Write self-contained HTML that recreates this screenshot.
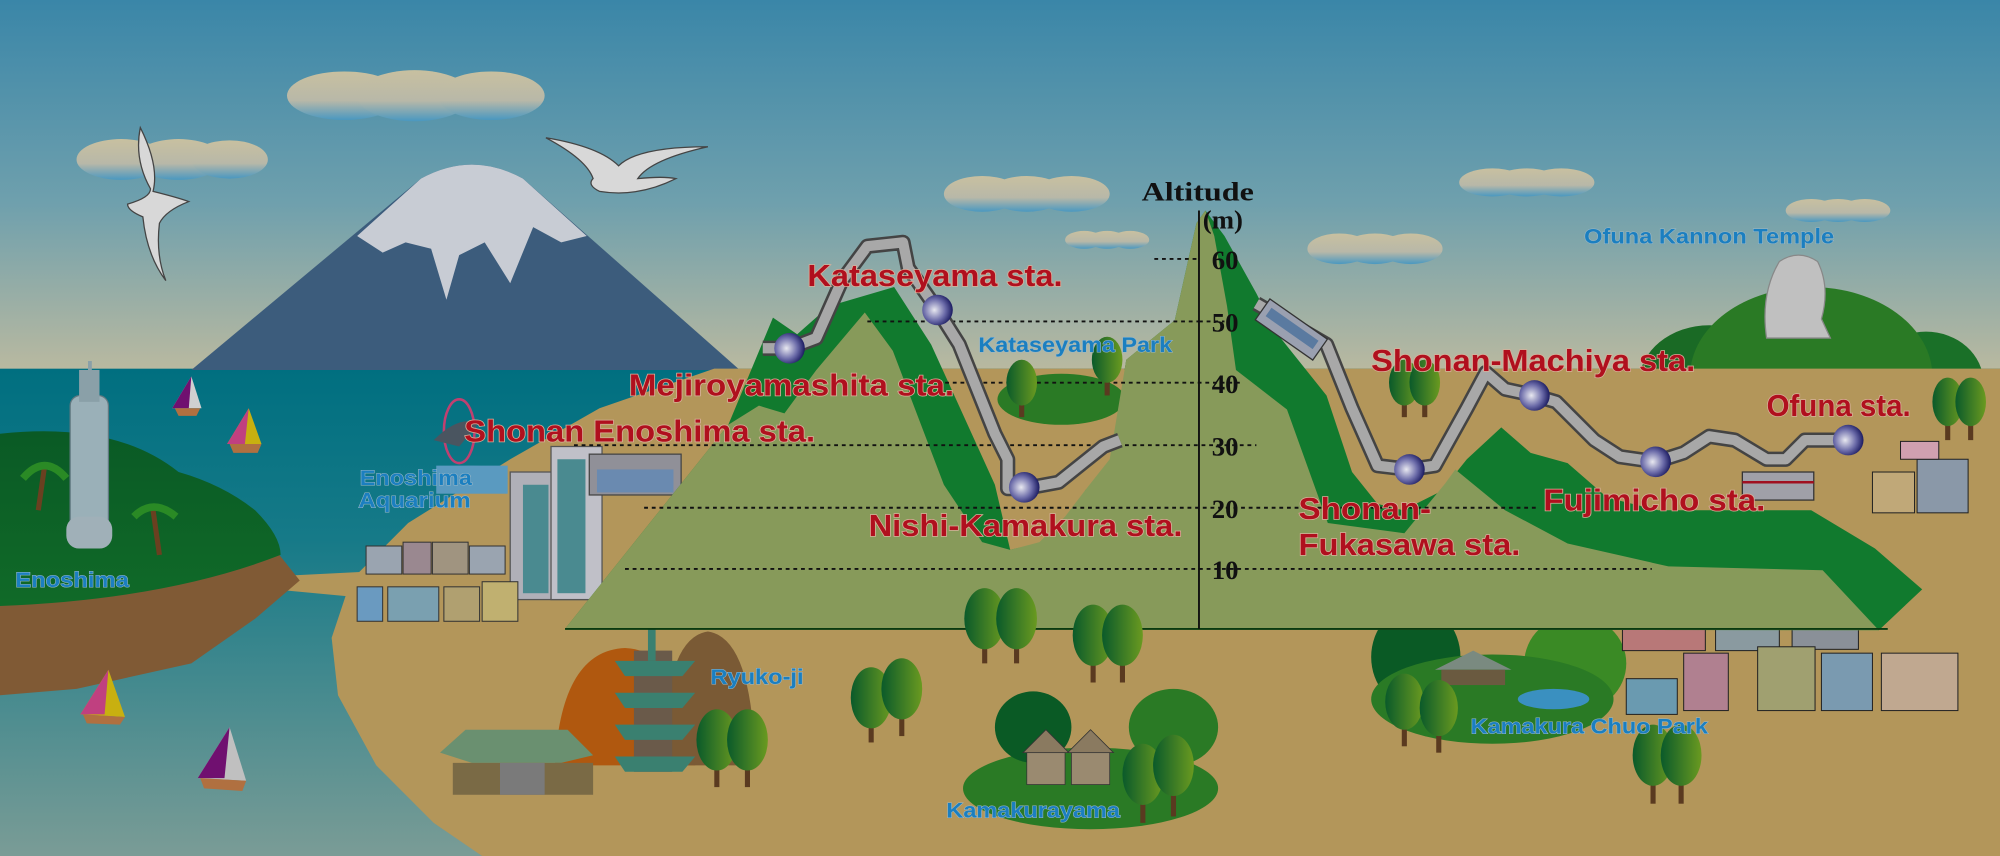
<!DOCTYPE html>
<html><head><meta charset="utf-8"><style>html,body{margin:0;padding:0;background:#3a87a8}svg{display:block}</style></head><body>
<svg width="2000" height="856" viewBox="0 0 1568 671" preserveAspectRatio="none" xmlns="http://www.w3.org/2000/svg">
<defs>
<linearGradient id="sky" x1="0" y1="0" x2="0" y2="1"><stop offset="0" stop-color="#3a86a8"/><stop offset="0.55" stop-color="#6fa0ad"/><stop offset="1" stop-color="#b9b9a0"/></linearGradient>
<linearGradient id="sea" x1="0" y1="0" x2="0" y2="1"><stop offset="0" stop-color="#006f80"/><stop offset="0.35" stop-color="#167a88"/><stop offset="1" stop-color="#7a9c96"/></linearGradient>
<linearGradient id="cloud" x1="0" y1="0" x2="0" y2="1"><stop offset="0" stop-color="#c8c0a0"/><stop offset="0.6" stop-color="#b8b8a8"/><stop offset="1" stop-color="#4a98c0"/></linearGradient>
<radialGradient id="st" cx="0.4" cy="0.5" r="0.6"><stop offset="0" stop-color="#e8e8f0"/><stop offset="0.6" stop-color="#6a6aa8"/><stop offset="1" stop-color="#1a1a60"/></radialGradient>
<linearGradient id="tree" x1="0" y1="0" x2="1" y2="0"><stop offset="0" stop-color="#0a5a2a"/><stop offset="1" stop-color="#6a9a20"/></linearGradient>
<linearGradient id="isl" x1="0" y1="0" x2="0" y2="1"><stop offset="0" stop-color="#0a5a25"/><stop offset="1" stop-color="#106a28"/></linearGradient>
</defs>
<rect x="0" y="0" width="1568" height="290" fill="url(#sky)"/>
<rect x="0" y="289" width="1568" height="382" fill="url(#sea)"/>
<!-- clouds -->
<g fill="url(#cloud)">
<ellipse cx="270" cy="75" rx="45" ry="19"/><ellipse cx="325" cy="75" rx="45" ry="20"/><ellipse cx="385" cy="75" rx="42" ry="19"/>
<ellipse cx="95" cy="125" rx="35" ry="16"/><ellipse cx="140" cy="125" rx="35" ry="16"/><ellipse cx="180" cy="125" rx="30" ry="15"/>
<ellipse cx="770" cy="152" rx="30" ry="14"/><ellipse cx="805" cy="152" rx="30" ry="14"/><ellipse cx="840" cy="152" rx="30" ry="14"/>
<ellipse cx="850" cy="188" rx="15" ry="7"/><ellipse cx="868" cy="188" rx="15" ry="7"/><ellipse cx="886" cy="188" rx="15" ry="7"/>
<ellipse cx="1050" cy="195" rx="25" ry="12"/><ellipse cx="1078" cy="195" rx="25" ry="12"/><ellipse cx="1106" cy="195" rx="25" ry="12"/>
<ellipse cx="1170" cy="143" rx="26" ry="11"/><ellipse cx="1197" cy="143" rx="26" ry="11"/><ellipse cx="1224" cy="143" rx="26" ry="11"/>
<ellipse cx="1420" cy="165" rx="20" ry="9"/><ellipse cx="1441" cy="165" rx="20" ry="9"/><ellipse cx="1462" cy="165" rx="20" ry="9"/>
</g>
<!-- Fuji -->
<path d="M150,290 L330,140 Q370,118 410,140 L580,290 Z" fill="#3c5c7c"/>
<path d="M280,185 L330,140 Q370,118 410,140 L460,185 L440,190 L418,178 L400,222 L380,190 L360,200 L350,235 L338,195 L318,190 L300,198 Z" fill="#c8ccd4"/>
<!-- seagulls -->
<g fill="#d8d8d8" stroke="#444" stroke-width="1">
<path d="M110,100 Q125,130 120,150 Q140,155 148,158 Q130,165 125,175 Q122,200 130,220 Q115,200 112,170 Q100,165 100,160 Q118,155 118,148 Q105,125 110,100 Z"/>
<path d="M428,108 Q470,115 485,130 Q500,115 555,115 Q510,125 500,140 Q520,138 530,140 Q500,155 470,150 Q460,145 465,140 Q460,125 428,108 Z"/>
</g>
<!-- right hills -->
<ellipse cx="1340" cy="300" rx="55" ry="45" fill="#1a6a25"/>
<ellipse cx="1510" cy="300" rx="45" ry="40" fill="#1a7028"/>
<ellipse cx="1420" cy="295" rx="95" ry="70" fill="#2a7a25"/>
<path d="M1385,265 Q1380,230 1395,205 Q1410,195 1425,205 Q1435,225 1428,250 L1435,265 Z" fill="#c0c0c0" stroke="#888"/>
<!-- land -->
<path d="M1568,289 L560,289 L470,320 L400,360 L320,410 L275,455 L260,500 L265,545 L295,600 L340,645 L378,671 L1568,671 Z" fill="#b3965a"/>
<path d="M210,452 L290,448 L300,470 L215,462 Z" fill="#b3965a"/>
<!-- Enoshima island -->
<path d="M0,475 L0,545 L60,540 L150,520 L200,485 L235,455 L215,430 Z" fill="#805a35"/>
<path d="M0,340 Q90,330 140,370 Q175,380 200,400 Q220,420 220,435 Q130,470 0,475 Z" fill="url(#isl)"/>
<rect x="55" y="310" width="30" height="115" rx="8" fill="#9ab0b8" stroke="#607880"/>
<rect x="62" y="290" width="16" height="25" fill="#8aa0a8"/><rect x="69" y="283" width="3" height="10" fill="#8aa0a8"/>
<rect x="52" y="405" width="36" height="25" rx="10" fill="#a0b0b8"/>
<path d="M30,400 L35,365 M125,435 L120,400" stroke="#6a4020" stroke-width="4"/>
<path d="M18,375 Q35,355 52,375 M105,405 Q120,390 138,405" stroke="#2a8a25" stroke-width="6" fill="none"/>
<!-- sailboats -->
<g>
<path d="M135,320 L150,295 L158,320 Z" fill="#d0d0d0"/><path d="M135,320 L150,295 L148,320 Z" fill="#701070"/><path d="M137,320 L157,320 L154,326 L140,326 Z" fill="#b07040"/>
<path d="M178,348 L195,320 L205,348 Z" fill="#c8b010"/><path d="M178,348 L195,320 L192,348 Z" fill="#c04080"/><path d="M180,348 L205,348 L202,355 L183,355 Z" fill="#b07040"/>
<path d="M63,560 L85,525 L98,562 Z" fill="#c8b010"/><path d="M63,560 L85,525 L82,560 Z" fill="#c04080"/><path d="M65,560 L98,562 L94,568 L68,567 Z" fill="#b07040"/>
<path d="M155,610 L180,570 L193,612 Z" fill="#c0c0c0"/><path d="M155,610 L180,570 L176,610 Z" fill="#701070"/><path d="M157,610 L193,612 L190,620 L160,618 Z" fill="#b07040"/>
</g>
<!-- aquarium -->
<ellipse cx="370" cy="375" rx="28" ry="10" fill="#4a8ab0"/><rect x="342" y="365" width="56" height="22" fill="#5a9ac0"/>
<ellipse cx="360" cy="338" rx="12" ry="25" fill="none" stroke="#c04070" stroke-width="2"/>
<path d="M340,345 Q360,325 375,332 L360,350 Z" fill="#4a5560"/>
<!-- station building -->
<rect x="400" y="370" width="62" height="100" fill="#b0b0b8" stroke="#555"/>
<rect x="432" y="350" width="40" height="120" fill="#c0c0c8" stroke="#555"/>
<g fill="#4a8a90"><rect x="410" y="380" width="20" height="85"/><rect x="437" y="360" width="22" height="105"/></g>
<rect x="462" y="356" width="72" height="32" fill="#909098" stroke="#444"/>
<rect x="468" y="368" width="60" height="18" fill="#6a8ab0"/>
<!-- houses left -->
<g stroke="#333" stroke-width="0.8">
<rect x="287" y="428" width="28" height="22" fill="#9aa4b0"/><rect x="316" y="425" width="22" height="25" fill="#9a8890"/><rect x="339" y="425" width="28" height="25" fill="#a09480"/><rect x="368" y="428" width="28" height="22" fill="#9aa4b0"/>
<rect x="280" y="460" width="20" height="27" fill="#6a9ac0"/><rect x="304" y="460" width="40" height="27" fill="#7aa0b0"/><rect x="348" y="460" width="28" height="27" fill="#b0a070"/><rect x="378" y="456" width="28" height="31" fill="#c0b070"/>
</g>
<!-- Ryuko-ji -->
<path d="M435,600 Q440,510 490,508 Q540,510 545,600 Z" fill="#b0580f"/>
<path d="M520,600 Q520,500 555,495 Q590,500 592,600 Z" fill="#7a5a35"/>
<rect x="497" y="510" width="30" height="95" fill="#6a5a4a"/>
<g fill="#3a8070"><path d="M482,518 L545,518 L535,530 L490,530Z"/><path d="M482,543 L545,543 L535,555 L490,555Z"/><path d="M482,568 L545,568 L535,580 L490,580Z"/><path d="M482,593 L545,593 L535,605 L490,605Z"/><rect x="508" y="470" width="6" height="48"/></g>
<path d="M345,590 L365,572 L445,572 L465,592 L440,598 L370,598 Z" fill="#6a9070"/>
<rect x="355" y="598" width="110" height="25" fill="#7a6a45"/><rect x="392" y="598" width="35" height="25" fill="#7a7a7a"/>
<!-- parks -->
<ellipse cx="855" cy="618" rx="100" ry="32" fill="#2a7a25"/>
<ellipse cx="810" cy="570" rx="30" ry="28" fill="#0a5a25"/><ellipse cx="920" cy="570" rx="35" ry="30" fill="#2a7a25"/>
<ellipse cx="1110" cy="515" rx="35" ry="40" fill="#0a5a25"/><ellipse cx="1235" cy="520" rx="40" ry="38" fill="#3a8a25"/>
<ellipse cx="1170" cy="548" rx="95" ry="35" fill="#2a7a25"/>
<ellipse cx="1218" cy="548" rx="28" ry="8" fill="#3a90c0"/>
<path d="M1125,525 L1155,510 L1185,525 Z" fill="#7a8a80"/><rect x="1130" y="525" width="50" height="12" fill="#6a5a40"/>
<g stroke="#333" stroke-width="0.6">
<rect x="805" y="590" width="30" height="25" fill="#9a8a70"/><path d="M802,590 L820,572 L838,590 Z" fill="#8a7a60"/>
<rect x="840" y="590" width="30" height="25" fill="#9a8a70"/><path d="M837,590 L855,572 L873,590 Z" fill="#8a7a60"/>
</g>
<!-- right houses -->
<g stroke="#222" stroke-width="0.8">
<rect x="1272" y="465" width="65" height="45" fill="#b87878"/><rect x="1345" y="460" width="50" height="50" fill="#8a9aa0"/><rect x="1405" y="457" width="52" height="52" fill="#8a9098"/>
<rect x="1275" y="532" width="40" height="28" fill="#6a9ab0"/><rect x="1320" y="512" width="35" height="45" fill="#b08090"/><rect x="1378" y="507" width="45" height="50" fill="#a0a070"/><rect x="1428" y="512" width="40" height="45" fill="#7a9ab0"/><rect x="1475" y="512" width="60" height="45" fill="#c0a890"/>
<rect x="1468" y="370" width="33" height="32" fill="#c0a878"/><rect x="1503" y="360" width="40" height="42" fill="#8a98a8"/><rect x="1490" y="346" width="30" height="14" fill="#d0a0b0"/>
</g>
<!-- altitude chart -->
<path d="M443,493 L571,333 L606,249 L625,262 L650,240 L701,225 L730,270 L780,380 L792,431 L840,420 L851,384 L870,360 L883,282 L921,251 L938,175 L945,165 L960,185 L985,230 L1000,260 L1040,310 L1060,370 L1080,395 L1100,400 L1130,385 L1150,360 L1177,335 L1200,355 L1229,363 L1260,390 L1300,400 L1420,400 L1470,430 L1507,462 L1473,494 Z" fill="#117a2e"/>
<path d="M783,290 L883,290 L880,340 L870,370 L851,384 L830,396 L810,394 L798,370 L790,340 Z" fill="#b3965a"/>
<ellipse cx="832" cy="313" rx="50" ry="20" fill="#2a7a25"/>
<path d="M443,493 L571,333 L595,318 L615,324 L640,290 L678,245 L700,275 L740,380 L770,425 L792,431 L815,425 L835,405 L851,384 L870,360 L883,282 L921,251 L938,175 L945,165 L952,185 L962,240 L969,290 L1009,321 L1041,410 L1101,418 L1133,379 L1141,368 L1180,400 L1229,426 L1308,444 L1429,447 L1473,494 Z" fill="#879a5a"/>
<line x1="443" y1="493" x2="1480" y2="493" stroke="#0a3a10" stroke-width="1.5"/>
<g stroke="#111" stroke-width="1.5" stroke-dasharray="3,3">
<line x1="905" y1="203" x2="940" y2="203"/>
<line x1="680" y1="252" x2="940" y2="252"/><line x1="940" y1="252" x2="960" y2="252"/>
<line x1="735" y1="300" x2="975" y2="300"/>
<line x1="450" y1="349" x2="985" y2="349"/>
<line x1="505" y1="398" x2="1205" y2="398"/>
<line x1="490" y1="446" x2="1295" y2="446"/>
</g>
<line x1="940" y1="165" x2="940" y2="493" stroke="#111" stroke-width="1.5"/>
<g font-family="'Liberation Serif',serif" font-weight="bold" font-size="21" fill="#111">
<text x="895" y="157" textLength="88" lengthAdjust="spacingAndGlyphs">Altitude</text>
<text x="943" y="179">(m)</text>
<text x="950" y="211">60</text><text x="950" y="260">50</text><text x="950" y="308">40</text><text x="950" y="357">30</text><text x="950" y="406">20</text><text x="950" y="454">10</text>
</g>
<!-- track -->
<g fill="none" stroke-linejoin="round">
<path d="M598,273 L619,273 L640,265 L660,220 L680,193 L708,190 L712,210 L735,243 L752,270 L780,340 L790,360 L790,383 L803,383 L830,378 L850,362 L865,350 L878,345" stroke="#444" stroke-width="12"/>
<path d="M598,273 L619,273 L640,265 L660,220 L680,193 L708,190 L712,210 L735,243 L752,270 L780,340 L790,360 L790,383 L803,383 L830,378 L850,362 L865,350 L878,345" stroke="#a8a8a8" stroke-width="8"/>
<path d="M985,238 L1040,270 L1060,320 L1080,365 L1105,368 L1125,365 L1150,320 L1165,292 L1180,305 L1203,310 L1220,315 L1250,345 L1270,358 L1298,362 L1320,355 L1340,342 L1360,345 L1385,360 L1400,360 L1415,345 L1449,345" stroke="#444" stroke-width="12"/>
<path d="M985,238 L1040,270 L1060,320 L1080,365 L1105,368 L1125,365 L1150,320 L1165,292 L1180,305 L1203,310 L1220,315 L1250,345 L1270,358 L1298,362 L1320,355 L1340,342 L1360,345 L1385,360 L1400,360 L1415,345 L1449,345" stroke="#a8a8a8" stroke-width="8"/>
</g>
<g transform="rotate(35 1012 258)"><rect x="985" y="248" width="55" height="20" fill="#9aa0b0" stroke="#333"/><rect x="990" y="253" width="45" height="8" fill="#5a7aa0"/></g>
<rect x="1366" y="370" width="56" height="22" fill="#a0a0a8" stroke="#333"/><line x1="1366" y1="378" x2="1422" y2="378" stroke="#a01020" stroke-width="2"/>
<g fill="url(#st)">
<circle cx="619" cy="273" r="12"/><circle cx="735" cy="243" r="12"/><circle cx="803" cy="382" r="12"/>
<circle cx="1105" cy="368" r="12"/><circle cx="1203" cy="310" r="12"/><circle cx="1298" cy="362" r="12"/><circle cx="1449" cy="345" r="12"/>
</g>
<!-- trees -->
<g id="trees">
<g><rect x="770" y="490" width="4" height="30" fill="#5a3a20"/><ellipse cx="772" cy="485" rx="16" ry="24" fill="url(#tree)"/></g>
<g><rect x="795" y="490" width="4" height="30" fill="#5a3a20"/><ellipse cx="797" cy="485" rx="16" ry="24" fill="url(#tree)"/></g>
<g><rect x="855" y="505" width="4" height="30" fill="#5a3a20"/><ellipse cx="857" cy="498" rx="16" ry="24" fill="url(#tree)"/></g>
<g><rect x="878" y="505" width="4" height="30" fill="#5a3a20"/><ellipse cx="880" cy="498" rx="16" ry="24" fill="url(#tree)"/></g>
<g><rect x="681" y="555" width="4" height="27" fill="#5a3a20"/><ellipse cx="683" cy="547" rx="16" ry="24" fill="url(#tree)"/></g>
<g><rect x="705" y="550" width="4" height="27" fill="#5a3a20"/><ellipse cx="707" cy="540" rx="16" ry="24" fill="url(#tree)"/></g>
<g><rect x="560" y="590" width="4" height="27" fill="#5a3a20"/><ellipse cx="562" cy="580" rx="16" ry="24" fill="url(#tree)"/></g>
<g><rect x="584" y="590" width="4" height="27" fill="#5a3a20"/><ellipse cx="586" cy="580" rx="16" ry="24" fill="url(#tree)"/></g>
<g><rect x="799" y="305" width="4" height="22" fill="#5a3a20"/><ellipse cx="801" cy="300" rx="12" ry="18" fill="url(#tree)"/></g>
<g><rect x="866" y="288" width="4" height="22" fill="#5a3a20"/><ellipse cx="868" cy="282" rx="12" ry="18" fill="url(#tree)"/></g>
<g><rect x="1099" y="305" width="4" height="22" fill="#5a3a20"/><ellipse cx="1101" cy="300" rx="12" ry="18" fill="url(#tree)"/></g>
<g><rect x="1115" y="305" width="4" height="22" fill="#5a3a20"/><ellipse cx="1117" cy="300" rx="12" ry="18" fill="url(#tree)"/></g>
<g><rect x="1525" y="320" width="4" height="25" fill="#5a3a20"/><ellipse cx="1527" cy="315" rx="12" ry="19" fill="url(#tree)"/></g>
<g><rect x="1543" y="320" width="4" height="25" fill="#5a3a20"/><ellipse cx="1545" cy="315" rx="12" ry="19" fill="url(#tree)"/></g>
<g><rect x="1294" y="600" width="4" height="30" fill="#5a3a20"/><ellipse cx="1296" cy="592" rx="16" ry="24" fill="url(#tree)"/></g>
<g><rect x="1316" y="600" width="4" height="30" fill="#5a3a20"/><ellipse cx="1318" cy="592" rx="16" ry="24" fill="url(#tree)"/></g>
<g><rect x="1099" y="560" width="4" height="25" fill="#5a3a20"/><ellipse cx="1101" cy="550" rx="15" ry="22" fill="url(#tree)"/></g>
<g><rect x="1126" y="565" width="4" height="25" fill="#5a3a20"/><ellipse cx="1128" cy="555" rx="15" ry="22" fill="url(#tree)"/></g>
<g><rect x="894" y="615" width="4" height="30" fill="#5a3a20"/><ellipse cx="896" cy="607" rx="16" ry="24" fill="url(#tree)"/></g>
<g><rect x="918" y="610" width="4" height="30" fill="#5a3a20"/><ellipse cx="920" cy="600" rx="16" ry="24" fill="url(#tree)"/></g>
</g>
<!-- labels -->
<g font-family="'Liberation Sans',sans-serif" font-weight="bold" font-size="24" fill="#b0101e" stroke="#d8b09a" stroke-width="1.2" paint-order="stroke">
<text x="633" y="224" textLength="200" lengthAdjust="spacingAndGlyphs">Kataseyama sta.</text>
<text x="493" y="310" textLength="255" lengthAdjust="spacingAndGlyphs">Mejiroyamashita sta.</text>
<text x="364" y="346" textLength="275" lengthAdjust="spacingAndGlyphs">Shonan Enoshima sta.</text>
<text x="681" y="420" textLength="246" lengthAdjust="spacingAndGlyphs">Nishi-Kamakura sta.</text>
<text x="1075" y="291" textLength="254" lengthAdjust="spacingAndGlyphs">Shonan-Machiya sta.</text>
<text x="1385" y="326" textLength="113" lengthAdjust="spacingAndGlyphs">Ofuna sta.</text>
<text x="1018" y="407" textLength="104" lengthAdjust="spacingAndGlyphs">Shonan-</text>
<text x="1018" y="435" textLength="174" lengthAdjust="spacingAndGlyphs">Fukasawa sta.</text>
<text x="1210" y="400" textLength="174" lengthAdjust="spacingAndGlyphs">Fujimicho sta.</text>
</g>
<g font-family="'Liberation Sans',sans-serif" font-weight="bold" font-size="17" fill="#1b7fc0" stroke="#9ab8c8" stroke-width="0.8" paint-order="stroke">
<text x="767" y="276" textLength="152" lengthAdjust="spacingAndGlyphs">Kataseyama Park</text>
<text x="12" y="460" textLength="89" lengthAdjust="spacingAndGlyphs">Enoshima</text>
<text x="282" y="380" textLength="88" lengthAdjust="spacingAndGlyphs">Enoshima</text>
<text x="281" y="398" textLength="88" lengthAdjust="spacingAndGlyphs">Aquarium</text>
<text x="557" y="536" textLength="73" lengthAdjust="spacingAndGlyphs">Ryuko-ji</text>
<text x="742" y="641" textLength="136" lengthAdjust="spacingAndGlyphs">Kamakurayama</text>
<text x="1153" y="575" textLength="186" lengthAdjust="spacingAndGlyphs">Kamakura Chuo Park</text>
<text x="1242" y="191" textLength="196" lengthAdjust="spacingAndGlyphs">Ofuna Kannon Temple</text>
</g>
</svg>
</body></html>
